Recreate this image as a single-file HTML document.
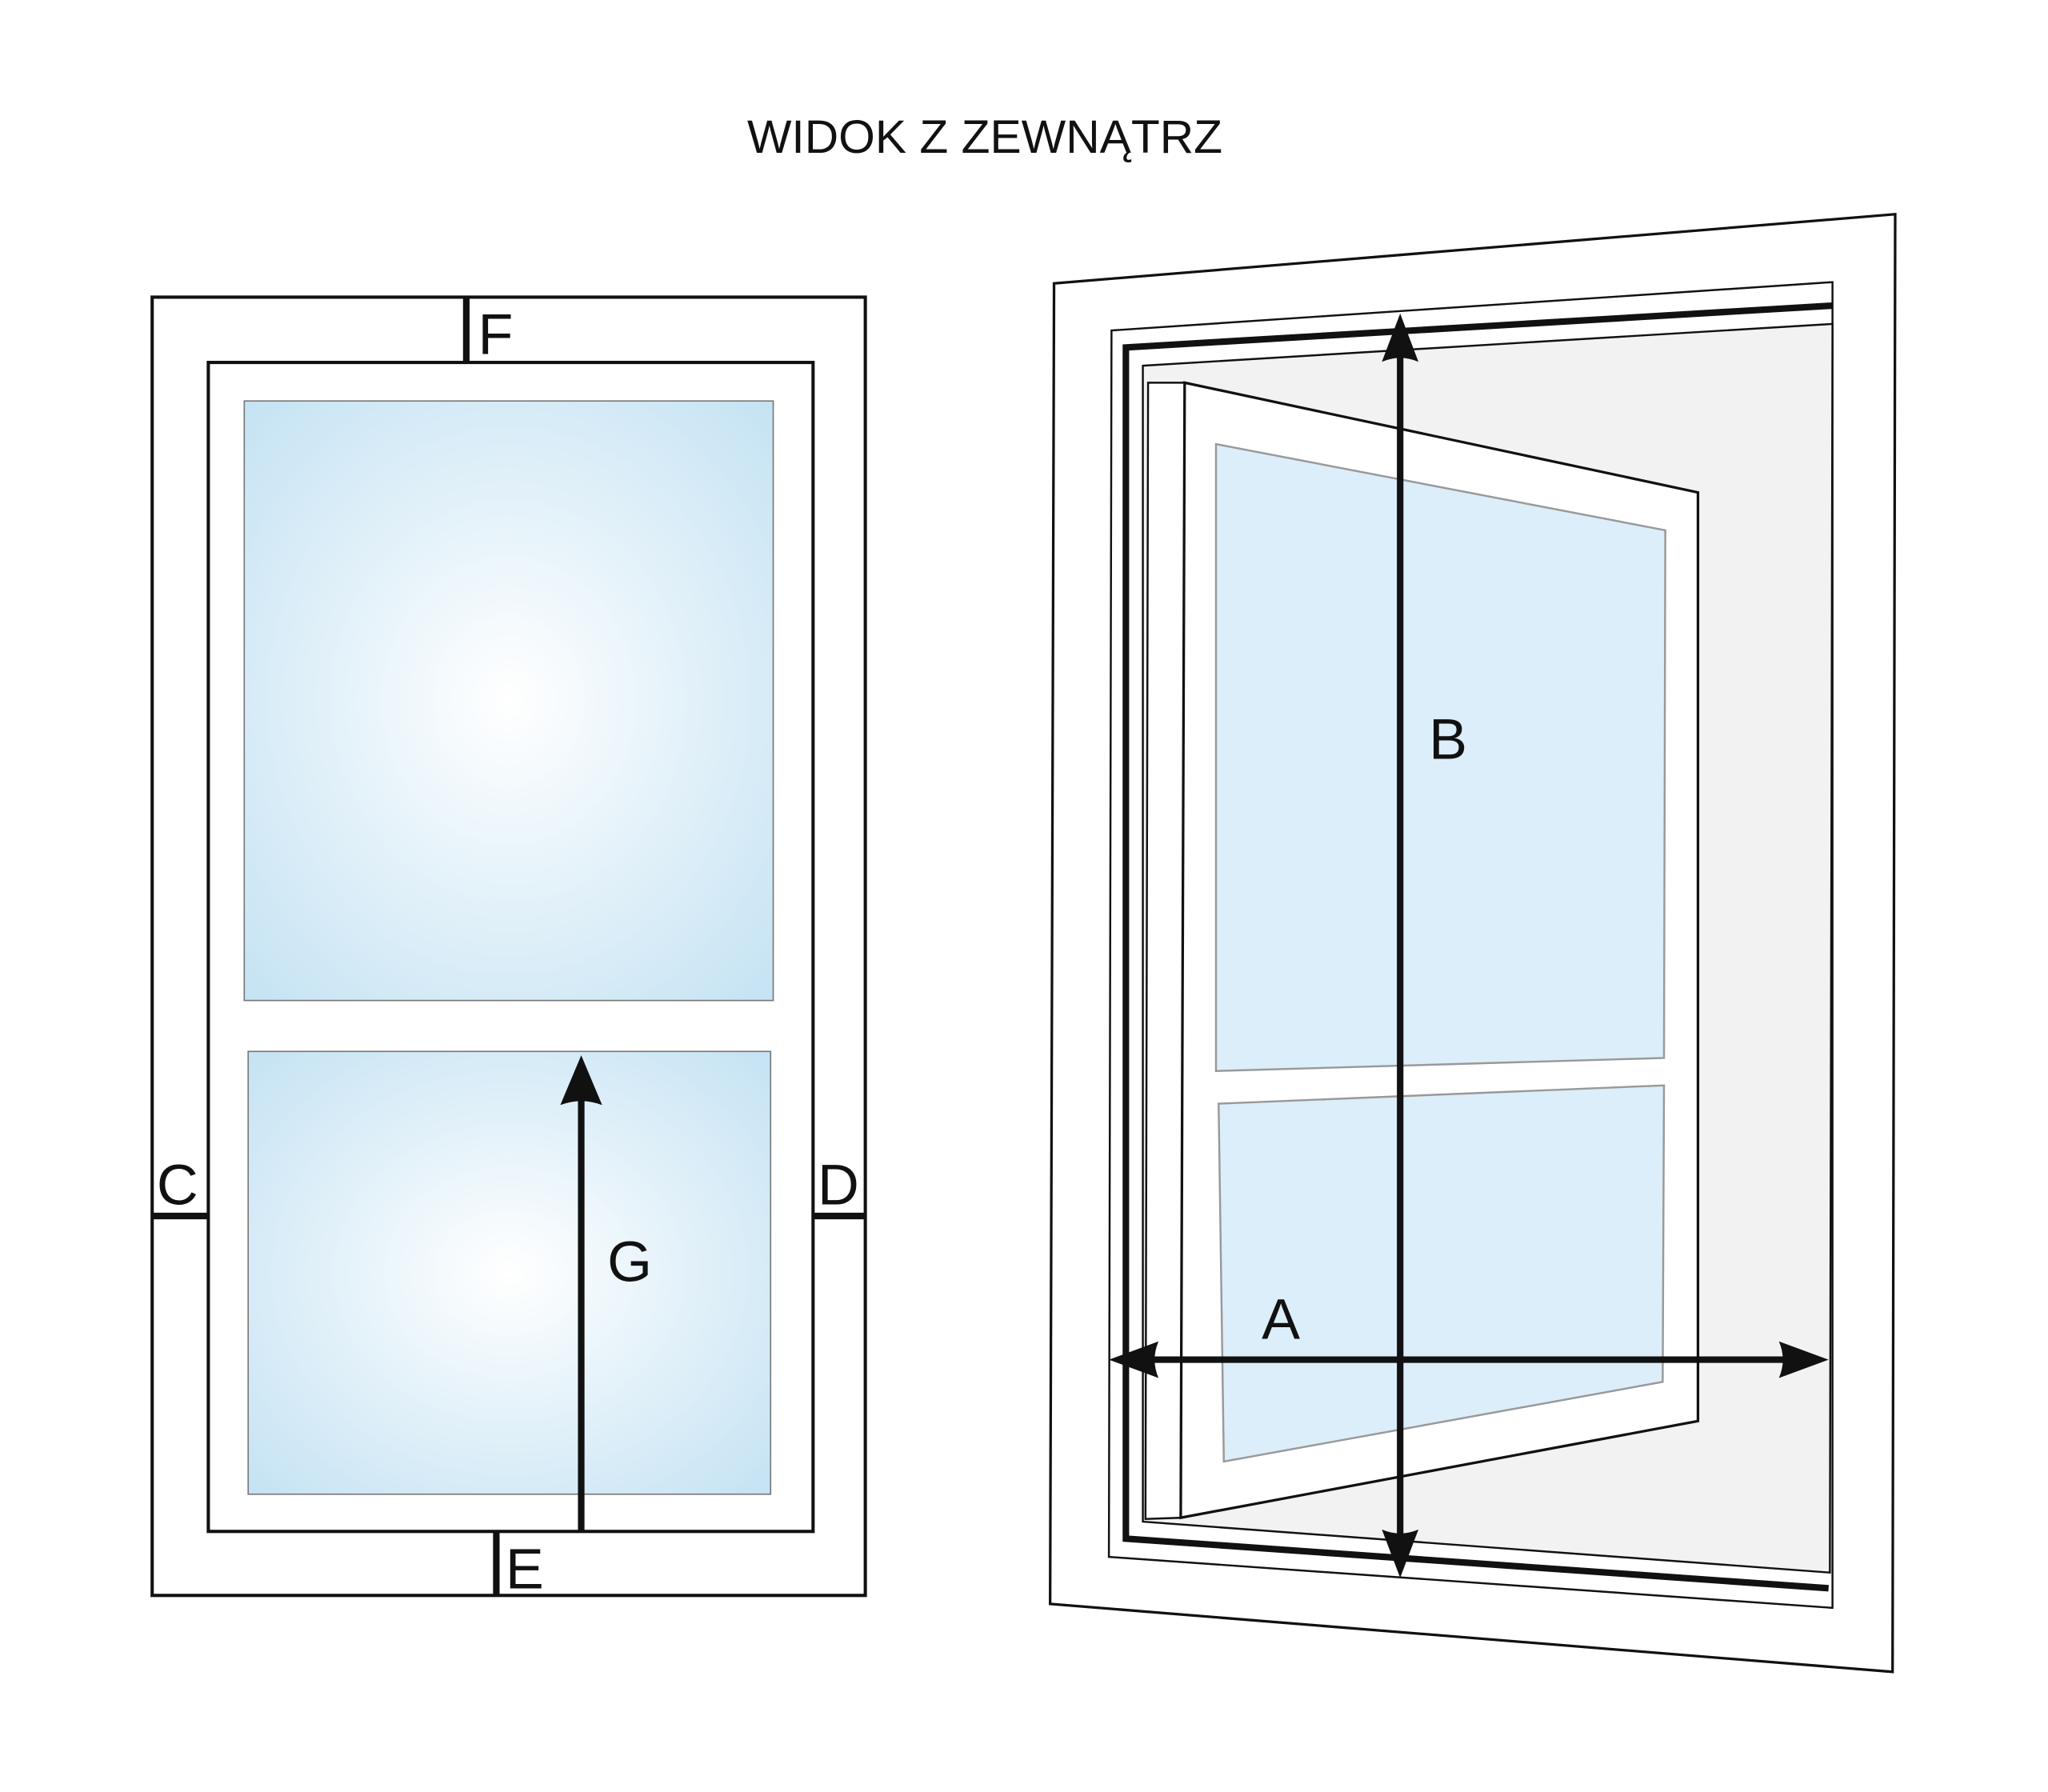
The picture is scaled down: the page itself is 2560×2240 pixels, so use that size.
<!DOCTYPE html>
<html><head><style>html,body{margin:0;padding:0;background:#fff}svg{display:block}</style></head>
<body>
<svg width="2560" height="2240" viewBox="0 0 1568 1372" xmlns="http://www.w3.org/2000/svg" font-family="Liberation Sans, sans-serif">
<defs>
<radialGradient id="g1" cx="0.5" cy="0.5" r="0.72">
<stop offset="0" stop-color="#ffffff"/><stop offset="1" stop-color="#c3e2f3"/></radialGradient>
</defs>
<rect width="1568" height="1372" fill="#fff"/>
<text x="754" y="117" font-size="36" text-anchor="middle" fill="#111">WIDOK Z ZEWNĄTRZ</text>
<g stroke="#111" fill="none">
<rect x="116.5" y="227.5" width="546" height="994" stroke-width="2.5" fill="#fff"/>
<rect x="159.5" y="277.5" width="463" height="895" stroke-width="2.5" fill="#fff"/>
</g>
<rect x="187" y="307" width="405" height="459" fill="url(#g1)" stroke="#777" stroke-width="1"/>
<rect x="190" y="805" width="400" height="339" fill="url(#g1)" stroke="#777" stroke-width="1"/>
<g stroke="#111" stroke-width="5">
<line x1="357" y1="227" x2="357" y2="277"/>
<line x1="380" y1="1172" x2="380" y2="1222"/>
<line x1="116" y1="931" x2="159" y2="931"/>
<line x1="622" y1="931" x2="662" y2="931"/>
<line x1="445" y1="1172" x2="445" y2="840"/>
</g>
<path d="M445 808 L461 846 Q445 840 429 846 Z" fill="#111"/>
<g font-size="44" fill="#111">
<text x="366" y="271">F</text>
<text x="387" y="1216">E</text>
<text x="120" y="922">C</text>
<text x="626" y="922">D</text>
<text x="465" y="981">G</text>
</g>
<polygon points="807,217 1451,164 1449,1280 804,1228" fill="#fff" stroke="#111" stroke-width="2"/>
<polygon points="851,253 1403,216 1403,1231 849,1192" fill="#fff" stroke="#111" stroke-width="1.5"/>
<polygon points="875,280 1403,248 1401,1204 875,1165" fill="#f2f2f2" stroke="#111" stroke-width="1.5"/>
<polyline points="1403,234 862,266 862,1178 1400,1216" fill="none" stroke="#111" stroke-width="5"/>
<polygon points="879,293 907,293 905,1162 877,1163" fill="#fff" stroke="#111" stroke-width="1.5"/>
<polygon points="907,293 1300,377 1300,1088 904,1162" fill="#fff" stroke="#111" stroke-width="2"/>
<polygon points="931,340 1275,406 1274,810 931,820" fill="#dbeef9" stroke="#999" stroke-width="1.5"/>
<polygon points="933,845 1274,831 1273,1058 937,1119" fill="#dbeef9" stroke="#999" stroke-width="1.5"/>
<g stroke="#111" stroke-width="5">
<line x1="1072" y1="270" x2="1072" y2="1178"/>
<line x1="880" y1="1041" x2="1370" y2="1041"/>
</g>
<path d="M1072 240 L1086 277 Q1072 271 1058 277 Z" fill="#111"/>
<path d="M1072 1208 L1086 1171 Q1072 1177 1058 1171 Z" fill="#111"/>
<path d="M849 1041 L887 1027 Q881 1041 887 1055 Z" fill="#111"/>
<path d="M1400 1041 L1362 1027 Q1368 1041 1362 1055 Z" fill="#111"/>
<g font-size="44" fill="#111">
<text x="1094" y="581">B</text>
<text x="966" y="1025">A</text>
</g>
</svg>
</body></html>
